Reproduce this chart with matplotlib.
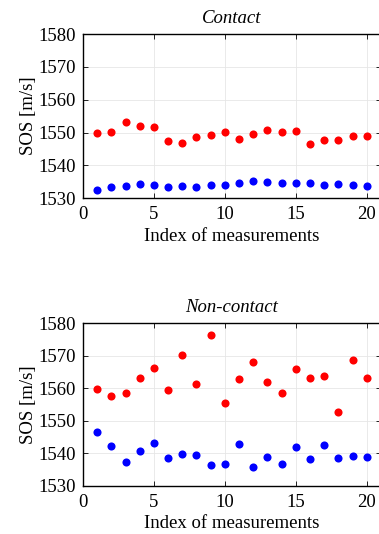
import numpy as np
import matplotlib
from matplotlib import pyplot as plt
plt.switch_backend('agg')

# values
idx = np.arange(1, 21)
contact_red = [1549.8, 1550.2, 1553.2, 1552.1, 1551.6, 1547.4, 1546.8, 1548.5, 1549.3, 1550.2,
               1548.0, 1549.5, 1550.8, 1550.3, 1550.6, 1546.4, 1547.7, 1547.8, 1549.0, 1548.8]
contact_blue = [1532.4, 1533.4, 1533.8, 1534.2, 1534.1, 1533.5, 1533.8, 1533.4, 1534.1, 1534.0,
                1534.6, 1535.1, 1534.9, 1534.7, 1534.5, 1534.7, 1533.9, 1534.2, 1534.0, 1533.7]
noncontact_red = [1559.8, 1557.5, 1558.4, 1563.1, 1566.1, 1559.4, 1570.2, 1561.2, 1576.2, 1555.4,
                  1562.7, 1568.2, 1561.9, 1558.6, 1565.8, 1563.2, 1563.6, 1552.7, 1568.8, 1563.1]
noncontact_blue = [1546.5, 1542.2, 1537.3, 1540.7, 1543.1, 1538.6, 1539.7, 1539.4, 1536.5, 1536.7,
                   1542.9, 1535.8, 1539.0, 1536.8, 1542.1, 1538.3, 1542.5, 1538.5, 1539.1, 1539.0]
titles = ["Contact", "Non-contact"]
xticks = [0, 5, 10, 15, 20]
yticks = [1530, 1540, 1550, 1560, 1570, 1580]

plt.rcParams['font.family'] = ['Liberation Serif', 'DejaVu Serif']

fig = plt.figure(figsize=(3.79, 5.34), dpi=100)

panels = [
    (titles[0], contact_red, contact_blue, [0.219, 0.629, 0.786, 0.307]),
    (titles[1], noncontact_red, noncontact_blue, [0.219, 0.090, 0.786, 0.305]),
]

for title, red, blue, pos in panels:
    ax = fig.add_axes(pos)
    ax.scatter(idx, red, s=34, color=(1, 0, 0), zorder=3, linewidths=0)
    ax.scatter(idx, blue, s=34, color=(0, 0, 1), zorder=3, linewidths=0)
    ax.set_xlim(0, 21)
    ax.set_ylim(1530, 1580)
    ax.set_xticks(xticks)
    ax.set_yticks(yticks)
    ax.grid(True, color='#e6e6e6', linewidth=0.6)
    ax.set_axisbelow(True)
    ax.tick_params(direction='in', length=3.5, width=0.6, top=True, right=True,
                   labelsize=13.5)
    ax.tick_params(axis='x', pad=6)
    ax.tick_params(axis='y', pad=5)
    for sp in ax.spines.values():
        sp.set_linewidth(1.0)
    ax.set_title(title, fontsize=13.5, style='italic', pad=8)
    ax.set_xlabel("Index of measurements", fontsize=13.5, labelpad=3)
    ax.set_ylabel("SOS [m/s]", fontsize=13.5, labelpad=1)

fig.savefig('out.png', dpi=100)
